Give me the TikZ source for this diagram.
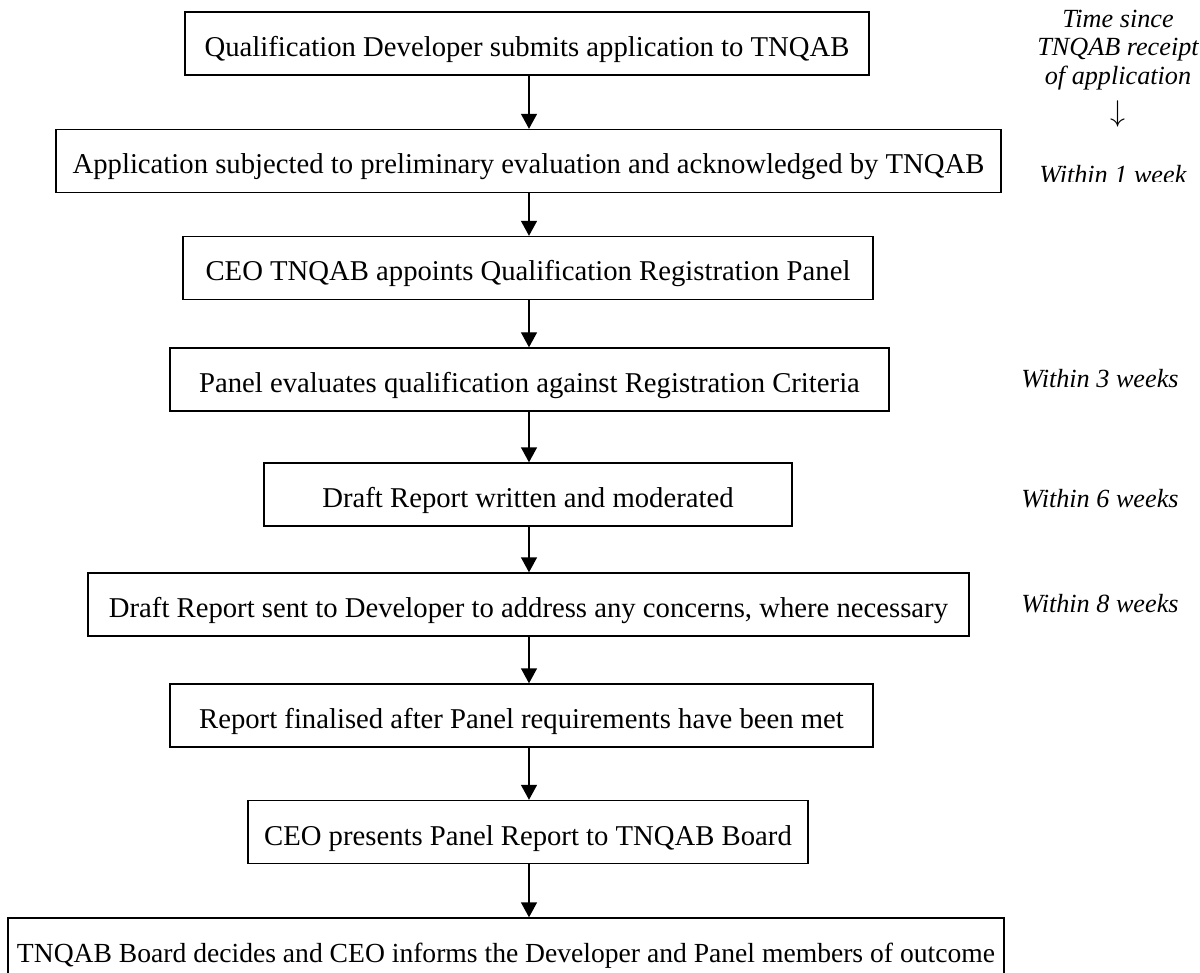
\documentclass[tikz,border=0pt]{standalone}
\usepackage{fontspec}
\setmainfont{Liberation Serif}
\usetikzlibrary{arrows.meta}
\tikzset{
  box/.style={draw, line width=0.7pt, inner sep=0pt, text height=17pt, text depth=4pt,
    minimum height=31.5pt, align=center, font=\fontsize{14.35}{16}\selectfont},
  arr/.style={line width=0.7pt, -{Triangle[length=7.5pt,width=8pt]}},
  note/.style={inner sep=0pt, font=\fontsize{13.1}{14.25}\selectfont\itshape},
}
\begin{document}
\begin{tikzpicture}[x=0.5pt, y=-0.5pt]
\useasboundingbox (0,0) rectangle (1200,973);
\fill[white] (0,0) rectangle (1200,973);
\coordinate (ax) at (529,0);

\node[box, minimum width=342pt] (b1) at (527,43.5) {Qualification Developer submits application to TNQAB};
\node[box, minimum width=472.5pt] (b2) at (528.5,161) {Application subjected to preliminary evaluation and acknowledged by TNQAB};
\node[box, minimum width=345pt] (b3) at (528,268) {CEO TNQAB appoints Qualification Registration Panel};
\node[box, minimum width=359.5pt] (b4) at (529.5,379.5) {Panel evaluates qualification against Registration Criteria};
\node[box, minimum width=264pt] (b5) at (528,494.5) {Draft Report written and moderated};
\node[box, minimum width=440.5pt] (b6) at (528.5,604.5) {Draft Report sent to Developer to address any concerns, where necessary};
\node[box, minimum width=351.5pt] (b7) at (521.5,715.5) {Report finalised after Panel requirements have been met};
\node[box, minimum width=280pt] (b8) at (528,832) {CEO presents Panel Report to TNQAB Board};
\node[box, minimum width=498pt, font=\fontsize{13.8}{16}\selectfont] (b9) at (506,949.5) {TNQAB Board decides and CEO informs the Developer and Panel members of outcome};

\foreach \a/\b in {b1/b2,b2/b3,b3/b4,b4/b5,b5/b6,b6/b7,b7/b8,b8/b9}
  \draw[arr] (\a.south -| ax) -- (\b.north -| ax);

\node[note, align=center, anchor=north] (hdr) at (1118,9.5) {Time since\\TNQAB receipt\\of application};
\node[inner sep=0pt, scale=1.5] (dn) at (1118,114) {$\downarrow$};

\begin{scope}
\clip (1000,140) rectangle (1200,182);
\node[note, anchor=base west] (w1) at (1039,184) {Within 1 week};
\end{scope}
\node[note, anchor=base west] (w3) at (1021,387) {Within 3 weeks};
\node[note, anchor=base west] (w6) at (1021,507) {Within 6 weeks};
\node[note, anchor=base west] (w8) at (1021,612) {Within 8 weeks};
\end{tikzpicture}
\end{document}
